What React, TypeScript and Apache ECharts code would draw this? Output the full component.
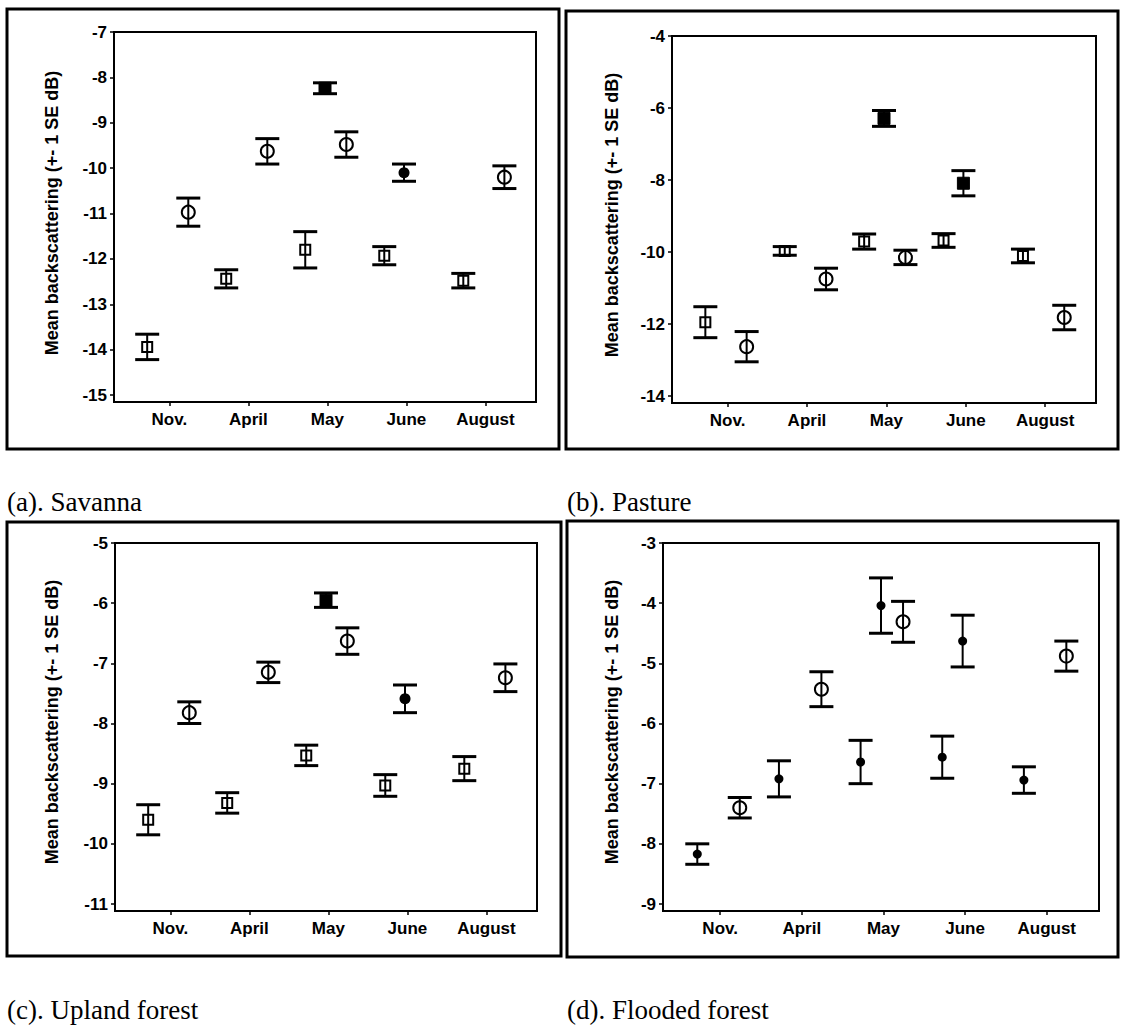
import React, { useEffect, useRef } from "react";
import * as echarts from "echarts";

// ---- data ----
const months = ["Nov.", "April", "May", "June", "August"];
// month index of each observation and its slot around the month tick
const obsMonth = [0, 0, 1, 1, 2, 2, 2, 3, 3, 4, 4];
const obsSlot = ["L", "R", "L", "R", "L", "C", "R", "L", "C", "L", "R"];

const savannaMean = [-13.94, -10.97, -12.44, -9.63, -11.8, -8.24, -9.48, -11.93, -10.1, -12.48, -10.2];
const savannaSE = [0.28, 0.31, 0.2, 0.28, 0.4, 0.12, 0.28, 0.2, 0.19, 0.16, 0.25];
const savannaMarker = ["sq", "ci", "sq", "ci", "sq", "fs", "ci", "sq", "fc", "sq", "ci"];
const savannaTicks = [-15, -14, -13, -12, -11, -10, -9, -8, -7];

const pastureMean = [-11.95, -12.63, -9.97, -10.75, -9.71, -6.29, -10.15, -9.68, -8.09, -10.11, -11.82];
const pastureSE = [0.43, 0.42, 0.12, 0.3, 0.21, 0.22, 0.2, 0.19, 0.35, 0.19, 0.34];
const pastureMarker = ["sq", "ci", "sq", "ci", "sq", "fs", "ci", "sq", "fs", "sq", "ci"];
const pastureTicks = [-14, -12, -10, -8, -6, -4];

const uplandMean = [-9.6, -7.82, -9.32, -7.15, -8.53, -5.95, -6.63, -9.03, -7.59, -8.75, -7.24];
const uplandSE = [0.25, 0.18, 0.17, 0.17, 0.17, 0.12, 0.22, 0.18, 0.23, 0.2, 0.23];
const uplandMarker = ["sq", "ci", "sq", "ci", "sq", "fs", "ci", "sq", "fc", "sq", "ci"];
const uplandTicks = [-11, -10, -9, -8, -7, -6, -5];

const floodedMean = [-8.17, -7.4, -6.92, -5.43, -6.64, -4.04, -4.31, -6.56, -4.63, -6.94, -4.88];
const floodedSE = [0.17, 0.17, 0.3, 0.29, 0.36, 0.46, 0.34, 0.35, 0.43, 0.22, 0.25];
const floodedMarker = ["dot", "ci", "dot", "ci", "dot", "dot", "ci", "dot", "dot", "dot", "ci"];
const floodedTicks = [-9, -8, -7, -6, -5, -4, -3];

const yAxisTitle = "Mean backscattering (+- 1 SE dB)";

// ---- layout ----
const slotOffset: Record<string, number> = { L: -0.28, C: -0.03, R: 0.24 };
const BOTTOM_PAD = 7;

const panels = [
  {
    title: "(a). Savanna", mean: savannaMean, se: savannaSE, marker: savannaMarker, ticks: savannaTicks,
    frame: [7, 9, 552, 440], grid: { left: 114, top: 32, width: 422, height: 370 }, titlePos: [7, 502], namePos: [52, 213],
  },
  {
    title: "(b). Pasture", mean: pastureMean, se: pastureSE, marker: pastureMarker, ticks: pastureTicks,
    frame: [566, 11, 552, 438], grid: { left: 672, top: 36, width: 424, height: 367 }, titlePos: [567, 502], namePos: [612, 215],
  },
  {
    title: "(c). Upland forest", mean: uplandMean, se: uplandSE, marker: uplandMarker, ticks: uplandTicks,
    frame: [7, 522, 554, 434], grid: { left: 115, top: 543, width: 422, height: 368 }, titlePos: [7, 1010], namePos: [52, 722],
  },
  {
    title: "(d). Flooded forest", mean: floodedMean, se: floodedSE, marker: floodedMarker, ticks: floodedTicks,
    frame: [567, 521, 551, 436], grid: { left: 663, top: 543, width: 436, height: 368 }, titlePos: [567, 1010], namePos: [612, 722],
  },
];

const SANS = "'Liberation Sans', Arial, sans-serif";
const SERIF = "'Liberation Serif', 'Times New Roman', serif";

function markerShape(kind: string, cx: number, cy: number) {
  const black = "#000";
  switch (kind) {
    case "sq":
      return { type: "rect", shape: { x: cx - 5, y: cy - 5, width: 10, height: 10 }, style: { fill: "none", stroke: black, lineWidth: 2 } };
    case "ci":
      return { type: "circle", shape: { cx, cy, r: 6.5 }, style: { fill: "none", stroke: black, lineWidth: 2 } };
    case "fs":
      return { type: "rect", shape: { x: cx - 6, y: cy - 6, width: 12, height: 12 }, style: { fill: black, stroke: black, lineWidth: 1 } };
    case "fc":
      return { type: "circle", shape: { cx, cy, r: 5.5 }, style: { fill: black } };
    default:
      return { type: "circle", shape: { cx, cy, r: 4.5 }, style: { fill: black } };
  }
}

function buildOption() {
  const grids: any[] = [];
  const xAxes: any[] = [];
  const yAxes: any[] = [];
  const series: any[] = [];
  const graphics: any[] = [];

  panels.forEach((p, i) => {
    grids.push({ ...p.grid, show: true, borderColor: "#000", borderWidth: 2, backgroundColor: "transparent" });
    const tickVals = [1, 2, 3, 4, 5];
    xAxes.push({
      type: "value", gridIndex: i, min: 0.3, max: 5.64,
      axisLine: { show: false },
      splitLine: { show: false },
      axisTick: { show: true, customValues: tickVals, length: 4, lineStyle: { color: "#000", width: 1.5 } },
      axisLabel: {
        customValues: tickVals, margin: 9, color: "#000", fontFamily: SANS, fontWeight: "bold", fontSize: 17,
        formatter: (v: number) => months[Math.round(v) - 1] ?? "",
      },
    });
    const lo = p.ticks[0];
    const hi = p.ticks[p.ticks.length - 1];
    const yMin = lo - (BOTTOM_PAD * (hi - lo)) / (p.grid.height - BOTTOM_PAD);
    yAxes.push({
      type: "value", gridIndex: i, min: yMin, max: hi,
      axisLine: { show: false },
      splitLine: { show: false },
      axisTick: { show: true, customValues: p.ticks, length: 4, lineStyle: { color: "#000", width: 1.5 } },
      axisLabel: { customValues: p.ticks, margin: 7, color: "#000", fontFamily: SANS, fontWeight: "bold", fontSize: 17 },
    });
    const data = p.mean.map((m, k) => [obsMonth[k] + 1 + slotOffset[obsSlot[k]], m, p.se[k]]);
    const markers = p.marker;
    series.push({
      type: "custom",
      xAxisIndex: i,
      yAxisIndex: i,
      encode: { x: 0, y: 1 },
      data,
      renderItem: (params: any, api: any) => {
        const x = api.value(0);
        const m = api.value(1);
        const s = api.value(2);
        const c = api.coord([x, m]);
        const t = api.coord([x, m + s]);
        const b = api.coord([x, m - s]);
        const half = 12;
        return {
          type: "group",
          children: [
            { type: "line", shape: { x1: c[0], y1: t[1], x2: c[0], y2: b[1] }, style: { stroke: "#000", lineWidth: 2 } },
            { type: "line", shape: { x1: c[0] - half, y1: t[1], x2: c[0] + half, y2: t[1] }, style: { stroke: "#000", lineWidth: 3 } },
            { type: "line", shape: { x1: c[0] - half, y1: b[1], x2: c[0] + half, y2: b[1] }, style: { stroke: "#000", lineWidth: 3 } },
            markerShape(markers[params.dataIndex], c[0], c[1]),
          ],
        };
      },
    });

    const [fx, fy, fw, fh] = p.frame;
    graphics.push({
      type: "rect", shape: { x: fx, y: fy, width: fw, height: fh },
      style: { fill: "none", stroke: "#000", lineWidth: 3 }, silent: true,
    });
    graphics.push({
      type: "text", x: p.titlePos[0], y: p.titlePos[1],
      style: { text: p.title, fill: "#000", font: `27px ${SERIF}`, align: "left", verticalAlign: "middle" },
    });
    graphics.push({
      type: "text", x: p.namePos[0], y: p.namePos[1], rotation: Math.PI / 2,
      style: { text: yAxisTitle, fill: "#000", font: `bold 18px ${SANS}`, align: "center", verticalAlign: "middle" },
    });
  });

  return {
    animation: false,
    backgroundColor: "#fff",
    grid: grids,
    xAxis: xAxes,
    yAxis: yAxes,
    series,
    graphic: graphics,
  };
}

export default function App() {
  const ref = useRef<HTMLDivElement>(null);
  useEffect(() => {
    document.body.style.margin = "0";
    const chart = echarts.init(ref.current!, undefined, { renderer: "svg" });
    chart.setOption(buildOption() as any);
    return () => chart.dispose();
  }, []);
  return <div ref={ref} style={{ position: "absolute", left: 0, top: 0, width: 1121, height: 1028 }} />;
}
